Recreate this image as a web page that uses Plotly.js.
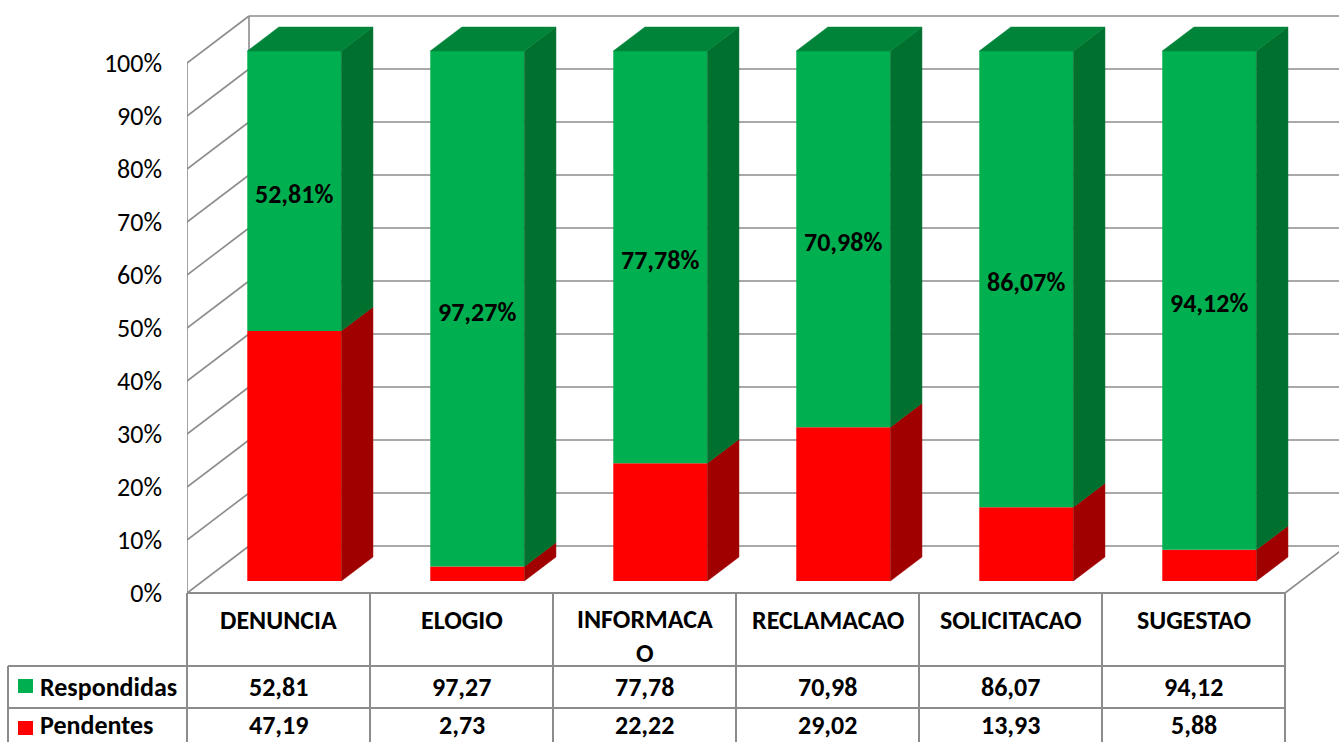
<!DOCTYPE html>
<html>
<head>
<meta charset="utf-8">
<script src="https://cdn.plot.ly/plotly-3.0.1.min.js"></script>
<style>html,body{margin:0;padding:0;background:#fff;}#chart{width:1339px;height:742px;}</style>
</head>
<body>
<div id="chart"></div>
<script>
// ---------- data ----------
const categories = ['DENUNCIA', 'ELOGIO', 'INFORMACAO', 'RECLAMACAO', 'SOLICITACAO', 'SUGESTAO'];
const categoryLabels = ['DENUNCIA', 'ELOGIO', 'INFORMACA<br>O', 'RECLAMACAO', 'SOLICITACAO', 'SUGESTAO'];
const seriesNames = ['Respondidas', 'Pendentes'];
const respondidas = [52.81, 97.27, 77.78, 70.98, 86.07, 94.12];
const pendentes = [47.19, 2.73, 22.22, 29.02, 13.93, 5.88];
const yTicks = [0, 10, 20, 30, 40, 50, 60, 70, 80, 90, 100];

// ---------- style / geometry ----------
const W = 1339, H = 742;
const ML = 187;                 // left margin (front axis line)
const PXX = 183;                // px per category
const PXY = 5.3;                // px per percent
const FLOOR_PX = 593;           // pixel of 0% at front
const WDX = 62 / PXX, WDY = 47 / PXY;   // full depth offset (wall)
const F0 = 0.255, F1 = 0.765;            // bar depth fractions
const BAR_W = 0.514;
const FONT = 'Carlito, Calibri, Lato, sans-serif';
const FS = 26;
const GREEN = '#00B050', GREEN_SIDE = '#00702F', GREEN_TOP = '#00843A';
const RED = '#FF0000', RED_SIDE = '#A00000';
const GRID = '#8C8C8C';

const fmt = v => v.toFixed(2).replace('.', ',');
const px2paperX = p => (p - ML) / (W - ML);
const px2paperY = p => (H - p) / H;

const xr = [-0.5, -0.5 + (W - ML) / PXX];
const yr = [(FLOOR_PX - H) / PXY, FLOOR_PX / PXY];

const idx = categories.map((c, i) => i);
const fdx = F0 * WDX, fdy = F0 * WDY;           // bar front-plane shift
const ddx = (F1 - F0) * WDX, ddy = (F1 - F0) * WDY; // bar depth

const traces = [];
// front faces
traces.push({
  type: 'bar', name: seriesNames[1], x: idx.map(i => i + fdx), y: pendentes,
  base: pendentes.map(() => fdy), width: BAR_W, marker: {color: RED, line: {width: 0}},
  hoverinfo: 'skip', showlegend: false
});
traces.push({
  type: 'bar', name: seriesNames[0], x: idx.map(i => i + fdx), y: respondidas,
  base: pendentes.map(p => p + fdy), width: BAR_W, marker: {color: GREEN, line: {width: 0}},
  hoverinfo: 'skip', showlegend: false
});

// side and top faces from data
function sidePolys(b0s, b1s) {
  const xs = [], ys = [];
  idx.forEach(i => {
    const xR = i + fdx + BAR_W / 2;
    const b0 = b0s[i] + fdy, b1 = b1s[i] + fdy;
    xs.push(xR, xR + ddx, xR + ddx, xR, xR, null);
    ys.push(b0, b0 + ddy, b1 + ddy, b1, b0, null);
  });
  return {xs, ys};
}
function topPolys(tops) {
  const xs = [], ys = [];
  idx.forEach(i => {
    const xL = i + fdx - BAR_W / 2, xR = i + fdx + BAR_W / 2;
    const t = tops[i] + fdy;
    xs.push(xL, xL + ddx, xR + ddx, xR, xL, null);
    ys.push(t, t + ddy, t + ddy, t, t, null);
  });
  return {xs, ys};
}
const totals = idx.map(i => pendentes[i] + respondidas[i]);
const rs = sidePolys(idx.map(() => 0), pendentes);
const gs = sidePolys(pendentes, totals);
const gt = topPolys(totals);
[[rs, RED_SIDE], [gs, GREEN_SIDE], [gt, GREEN_TOP]].forEach(([p, c]) => {
  traces.push({type: 'scatter', x: p.xs, y: p.ys, mode: 'lines', fill: 'toself',
    fillcolor: c, line: {color: c, width: 0.5}, hoverinfo: 'skip', showlegend: false});
});

// ---------- shapes ----------
const shapes = [];
const line = (x0, y0, x1, y1, ref, w) => shapes.push({type: 'line', xref: ref, yref: ref === 'paper' ? 'paper' : 'y',
  x0, y0, x1, y1, layer: 'below', line: {color: GRID, width: w || 1.6}});
yTicks.forEach(v => {
  line(-0.5, v, -0.5 + WDX, v + WDY, 'x');
  line(-0.5 + WDX, v + WDY, 5.5 + WDX + 1, v + WDY, 'x');
});
line(-0.5, 0, -0.5, 100, 'x');
line(-0.5 + WDX, WDY, -0.5 + WDX, 100 + WDY, 'x');
line(5.5, 0, 5.5 + WDX, WDY, 'x');

// data table
const tl = (x0, y0, x1, y1) => shapes.push({type: 'line', xref: 'paper', yref: 'paper',
  x0: px2paperX(x0), y0: px2paperY(y0), x1: px2paperX(x1), y1: px2paperY(y1),
  layer: 'above', line: {color: GRID, width: 2}});
const colEdge = k => ML + PXX * k;
tl(colEdge(0), FLOOR_PX, colEdge(6), FLOOR_PX);
tl(8, 666, colEdge(6), 666);
tl(8, 708, colEdge(6), 708);
for (let k = 0; k <= 6; k++) tl(colEdge(k), FLOOR_PX, colEdge(k), H + 2);
tl(8, 666, 8, H + 2);

// legend keys
[[GREEN, 679, 693], [RED, 721, 735]].forEach(([c, y0, y1]) => shapes.push({
  type: 'rect', xref: 'paper', yref: 'paper', x0: px2paperX(18), x1: px2paperX(33),
  y0: px2paperY(y1), y1: px2paperY(y0), line: {width: 0}, fillcolor: c, layer: 'above'}));

// ---------- annotations ----------
const annotations = [];
const bold = (size) => ({family: FONT, size: size, color: '#000', weight: 700});
const ROW2 = 725;
idx.forEach(i => {
  annotations.push({xref: 'x', yref: 'y', x: i + fdx, y: fdy + pendentes[i] + respondidas[i] / 2,
    text: fmt(respondidas[i]) + '%', showarrow: false, font: bold(FS), xanchor: 'center', yanchor: 'middle', yshift: -3});
  const nLines = categoryLabels[i].split('<br>').length;
  annotations.push({xref: 'x', yref: 'paper', x: i, y: px2paperY(620 + (nLines - 1) * 15.5),
    text: categoryLabels[i], showarrow: false, font: bold(FS), xanchor: 'center', yanchor: 'middle'});
  annotations.push({xref: 'x', yref: 'paper', x: i, y: px2paperY(687),
    text: fmt(respondidas[i]), showarrow: false, font: bold(FS), xanchor: 'center', yanchor: 'middle'});
  annotations.push({xref: 'x', yref: 'paper', x: i, y: px2paperY(ROW2),
    text: fmt(pendentes[i]), showarrow: false, font: bold(FS), xanchor: 'center', yanchor: 'middle'});
});
annotations.push({xref: 'paper', yref: 'paper', x: px2paperX(38), y: px2paperY(687), text: seriesNames[0],
  showarrow: false, font: bold(FS), xanchor: 'left', yanchor: 'middle'});
annotations.push({xref: 'paper', yref: 'paper', x: px2paperX(38), y: px2paperY(ROW2), text: seriesNames[1],
  showarrow: false, font: bold(FS), xanchor: 'left', yanchor: 'middle'});

const layout = {
  width: W, height: H,
  margin: {l: ML, r: 0, t: 0, b: 0, pad: 0},
  paper_bgcolor: '#fff', plot_bgcolor: 'rgba(0,0,0,0)',
  barmode: 'overlay', showlegend: false,
  xaxis: {range: xr, showgrid: false, zeroline: false, showline: false, showticklabels: false, ticks: '', fixedrange: true},
  yaxis: {range: yr, showgrid: false, zeroline: false, showline: false, ticks: '',
    tickvals: yTicks, ticktext: yTicks.map(v => v + '%'), ticklabelstandoff: 24,
    tickfont: {family: FONT, size: FS, color: '#000'}, fixedrange: true},
  shapes, annotations
};
Plotly.newPlot('chart', traces, layout, {staticPlot: true, displayModeBar: false});
</script>
</body>
</html>
